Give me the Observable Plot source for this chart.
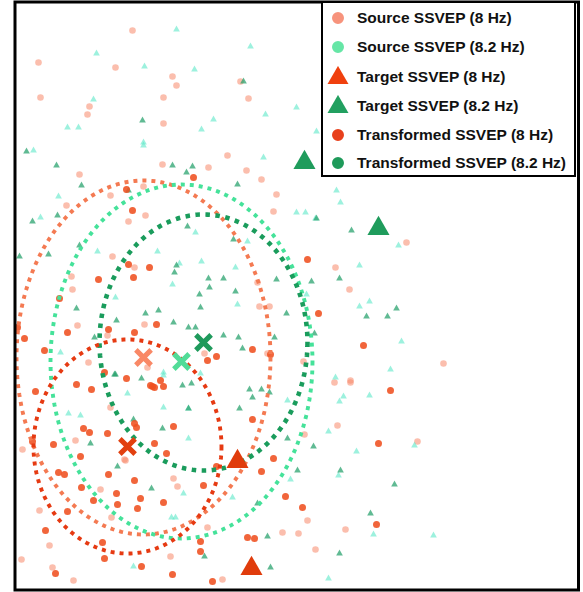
<!DOCTYPE html>
<html><head><meta charset="utf-8">
<script src="https://cdn.jsdelivr.net/npm/d3@7"></script>
<script src="https://cdn.jsdelivr.net/npm/@observablehq/plot@0.6"></script>
<style>
body{margin:0;background:#fff;}
#wrap{position:relative;width:583px;height:592px;}
#legend{position:absolute;left:321px;top:0.5px;width:251px;height:172px;border:2.5px solid #000;background:#fff;font-family:"Liberation Sans",Arial,sans-serif;font-weight:bold;font-size:15.5px;color:#111;}
.row{position:absolute;left:0;height:22px;display:flex;align-items:center;white-space:nowrap;}
.row svg{position:absolute;left:3.5px;top:0;}
.row span{position:absolute;left:34px;line-height:22px;}
</style>
</head><body>
<div id="wrap"><div id="legend"></div></div>
<script>
// Embedding coordinates (x to the right, y downward)
const xDomain = [14.5, 578];
const yDomain = [1.5, 589.5];

const source8 = [[132,30],[38,62],[115,67],[172,76],[176,85],[40,97],[163,97],[240,81],[248,98],[89,106],[87,114],[163,123],[227,155],[162,164],[208,167],[246,170],[79,174],[261,179],[276,194],[143,186],[110,195],
[66,205],[145,215],[128,221],[273,211],[112,256],[134,267],[71,276],[72,289],[259,306],[269,306],[257,282],[77,325],[144,324],[107,335],[88,362],[204,353],[303,361],[267,353],[147,367],
[22,449],[75,440],[125,460],[173,478],[177,486],[100,489],[39,510],[111,517],[49,545],[52,567],[21,559],[73,580],[170,556],[207,527],[222,579],[282,532],[298,533],[307,520],[315,549],[304,434],[110,407],
[406,242],[335,267],[349,289],[443,363],[350,380],[334,382],[350,382],[337,425],[417,441],[345,529],[124,459]];

const transformed8 = [[193,177],[126,189],[132,210],[307,259],[98,279],[128,264],[149,267],[133,277],[59,298],[17,327],[24,338],[67,332],[108,329],[134,332],[156,324],[44,350],[216,356],[252,349],[270,354],[318,313],[207,360],[104,372],
[76,384],[91,389],[35,391],[152,386],[163,386],[83,428],[89,432],[107,433],[173,426],[53,444],[154,443],[80,456],[166,453],[32,441],[58,472],[64,474],[108,474],[81,487],[134,480],[203,485],[93,500],[116,493],[117,504],[140,498],[163,502],[137,508],[67,511],
[45,530],[102,542],[104,558],[141,566],[172,574],[200,541],[200,551],[247,537],[254,538],[261,471],[273,458],[285,496],[302,507],[212,581],[55,573],[252,419],[216,466],
[390,390],[378,443],[376,524],[363,345],[150,385],[154,387],[160,380],[126,378],[134,423],[136,427]];

const source82 = [[176,29],[250,46],[96,53],[144,66],[194,69],[93,99],[213,119],[67,127],[78,127],[143,142],[143,145],[201,129],[265,114],[296,107],[316,131],[263,157],[33,150],[58,196],
[40,217],[296,212],[305,212],[315,218],[195,232],[97,251],[157,251],[201,261],[179,263],[235,267],[172,284],[115,297],[237,304],[247,241],[60,352],[200,373],
[127,393],[163,407],[188,408],[68,413],[80,415],[188,438],[232,497],[183,493],[171,517],[175,517],[133,566],[290,479],[287,400],
[336,190],[340,202],[398,245],[359,265],[306,294],[359,306],[369,301],[401,341],[390,369],[335,377],
[343,396],[339,401],[369,395],[328,431],[356,451],[414,445],[338,475],[373,534],[433,535],[328,578],[163,372],[163,375]];

const transformed82 = [[243,81],[142,120],[26,151],[56,165],[172,165],[192,166],[186,172],[237,184],[81,185],[128,190],
[32,221],[57,215],[48,254],[19,256],[79,245],[187,226],[233,239],[176,265],[174,272],[208,278],[223,278],[209,287],[199,294],[235,291],[276,279],[311,281],[76,308],[145,313],[158,310],[200,307],[116,320],[173,322],[188,327],[195,327],[223,335],[238,337],[274,337],[286,313],[242,348],[94,337],[115,374],
[182,385],[191,383],[249,389],[261,389],[239,408],[252,397],[90,443],[162,428],[117,466],[151,488],[269,392],[287,438],[297,470],[313,446],[267,536],[270,567],[204,556],[133,419],[257,503],
[316,218],[351,230],[339,278],[366,316],[387,316],[396,308],[314,333],[340,470],[394,484],[370,513],[339,553],[141,378],[114,374],[188,408]];

const target8 = [[237,461],[251,568]];
const target82 = [[304,162],[378,228]];

// class means (crosses) and spread ellipse radii
const groupNames = ["Source 8 Hz","Source 8.2 Hz","Transformed 8.2 Hz","Transformed 8 Hz"];
const meanX = [143,181,203,127];
const meanY = [357,361,342,446];
const radiusX = [127,131,104,94];
const radiusY = [177,177,128,107];
const ellipseColors = ["#f47a52","#45e29a","#1a9c5c","#e63a12"];
const crossColors = ["#f98866","#52dc98","#1f9a5c","#e2400f"];

const legendLabels = ["Source SSVEP (8 Hz)","Source SSVEP (8.2 Hz)","Target SSVEP (8 Hz)","Target SSVEP (8.2 Hz)","Transformed SSVEP (8 Hz)","Transformed SSVEP (8.2 Hz)"];
const legendColors = ["#f7937c","#66e6a6","#f0400e","#22a060","#e8401c","#1e9a5a"];
const legendSymbols = ["circle","circle","triangle","triangle","circle","circle"];

const ellipses = groupNames.map((g,i)=>d3.range(0,361,2).map(a=>({g,
  x: meanX[i] + radiusX[i]*Math.cos(a*Math.PI/180),
  y: meanY[i] + radiusY[i]*Math.sin(a*Math.PI/180)})));
const means = groupNames.map((g,i)=>({g,x:meanX[i],y:meanY[i],c:crossColors[i]}));

const X = d=>d[0], Y = d=>d[1];
const chart = Plot.plot({
  width:583, height:592,
  marginLeft:14.5, marginRight:5, marginTop:1.5, marginBottom:2.5,
  x:{domain:xDomain, axis:null},
  y:{domain:yDomain, reverse:true, axis:null},
  marks:[
    Plot.dot(source8,{x:X,y:Y,r:3.3,fill:"#f7886a",fillOpacity:0.55}),
    Plot.dot(source82,{x:X,y:Y,symbol:"triangle",r:2.5,fill:"#5ce8c8",fillOpacity:0.6}),
    Plot.dot(transformed82,{x:X,y:Y,symbol:"triangle",r:2.5,fill:"#23a06a",fillOpacity:0.72}),
    Plot.dot(transformed8,{x:X,y:Y,r:3.5,fill:"#ef5020",fillOpacity:0.88}),
    ...ellipses.map((pts,i)=>Plot.line(pts,{x:"x",y:"y",stroke:ellipseColors[i],
      strokeWidth: i===2 ? 4.6 : 3.9, strokeDasharray: i===2 ? "4.5,5.5" : "4,5", strokeLinecap:"butt"})),
    Plot.dot(means,{x:"x",y:"y",symbol:"times",r:7,stroke:"c",strokeWidth:5,fill:"none"}),
    Plot.dot(target8,{x:X,y:Y,symbol:"triangle",r:8.2,fill:"#e03c0c"}),
    Plot.dot(target82,{x:X,y:Y,symbol:"triangle",r:8.2,fill:"#1f9c5c"}),
    Plot.frame({stroke:"#000",strokeWidth:3})
  ]
});
document.getElementById("wrap").prepend(chart);

// legend drawn inside the plot area (top right)
const legend = d3.select("#legend");
const rowCenters = [15,44,74,103,132,160];
legendLabels.forEach((lab,i)=>{
  const row = legend.append("div").attr("class","row").style("top",(rowCenters[i]-11)+"px");
  const svg = row.append("svg").attr("width",22).attr("height",22);
  const isTri = legendSymbols[i]==="triangle";
  const size = isTri ? 190 : 113;
  svg.append("path")
    .attr("transform", isTri ? "translate(11,12)" : "translate(11,11)")
    .attr("d", d3.symbol(isTri ? d3.symbolTriangle : d3.symbolCircle, size)())
    .attr("fill", legendColors[i]);
  row.append("span").text(lab);
});
</script>
</body></html>
